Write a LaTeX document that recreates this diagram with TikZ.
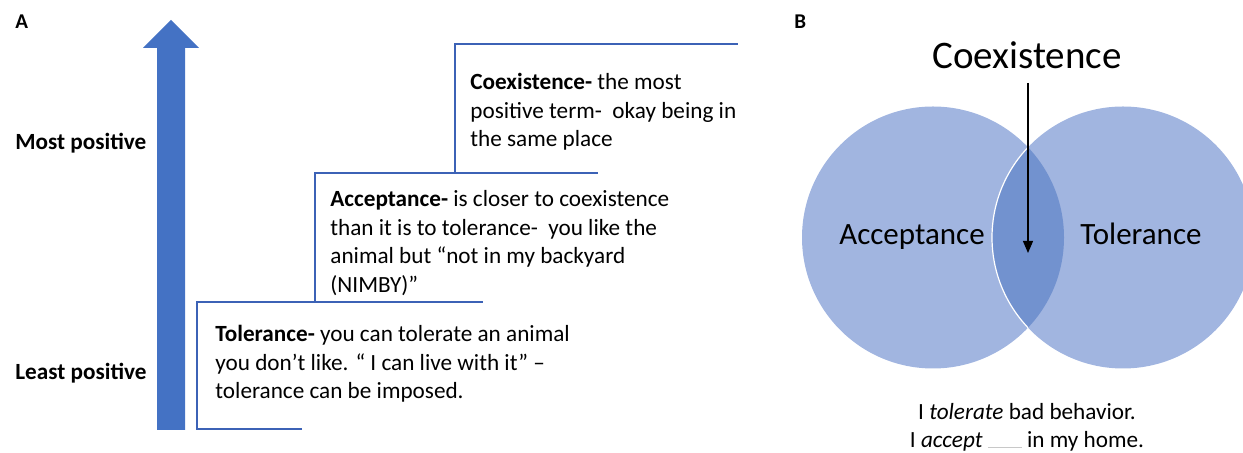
\documentclass[tikz,border=0pt]{standalone}
\usepackage{fontspec}
\setmainfont{Carlito}
\usetikzlibrary{arrows.meta, positioning}
\definecolor{arrblue}{HTML}{4472C4}
\definecolor{stepblue}{HTML}{3C62B6}
\definecolor{vennblue}{HTML}{A1B5E0}
\definecolor{lensblue}{HTML}{7292CF}
\definecolor{blankgray}{HTML}{C8C8C8}

\begin{document}
\begin{tikzpicture}[x=0.5pt, y=-0.5pt,
  >={Triangle[length=6pt, width=5pt]},
  every node/.style={text=black, inner sep=0pt},
  panel/.style={anchor=west, font=\fontsize{10.5}{12}\selectfont\bfseries},
  side/.style={anchor=west, font=\fontsize{11.6}{13}\selectfont\bfseries},
  desc/.style={anchor=base west, align=left, font=\fontsize{11.6}{14.25}\selectfont},
  steps/.style={stepblue, line width=1.4pt},
  venntext/.style={anchor=base, font=\fontsize{15.5}{18}\selectfont},
]

% Frame
\useasboundingbox (0,0) rectangle (1243,453);

% Panel A
\node[panel] (pa) at (15,22) {A};

% Rising arrow
\fill[arrblue] (157,430) -- (157,48) -- (143,48) -- (171,20) -- (199,48) -- (185,48) -- (185,430) -- cycle;

\node[side] (most) at (15,143) {Most positive};
\node[side] (least) at (15,373) {Least positive};

% Steps
\draw[steps] (302,429) -- (197,429) -- (197,302) -- (483,302);
\draw[steps] (315,302) -- (315,173) -- (598,173);
\draw[steps] (455,173) -- (455,44) -- (738,44);

% Step texts (base = last line)
\node[desc] (coexdesc) at (470,147) {\textbf{Coexistence-} the most\\positive term-~ okay being in\\the same place};
\node[desc] (accdesc) at (330,292.5) {\textbf{Acceptance-} is closer to coexistence\\than it is to tolerance-~ you like the\\animal but “not in my backyard\\(NIMBY)”};
\node[desc] (toldesc) at (215,399) {\textbf{Tolerance-} you can tolerate an animal\\you don’t like. “ I can live with it” –\\tolerance can be imposed.};

% Panel B
\node[panel] (pb) at (794,22) {B};

% Venn circles
\fill[vennblue] (933,237.5) circle (65.5pt);
\fill[vennblue] (1123,237.5) circle (65.5pt);
\begin{scope}
  \clip (933,237.5) circle (65.5pt);
  \fill[lensblue] (1123,237.5) circle (65.5pt);
  \draw[white, line width=0.6pt] (1123,237.5) circle (65.5pt);
\end{scope}

\node[venntext] (acc) at (912,245) {Acceptance};
\node[venntext] (tol) at (1141,245) {Tolerance};
\node[font=\fontsize{19.5}{22}\selectfont] (coex) at (1027,55) {Coexistence};

% Arrow into the overlap
\coordinate (lens) at (1028,253);
\draw[->, line width=0.6pt, shorten <=7pt] (coex.south -| lens) -- (lens);

% Sentences
\node[anchor=base, align=center, font=\fontsize{11.6}{14}\selectfont] (sent) at (1027,448)
  {I \textit{tolerate} bad behavior.\\I \textit{accept} \textcolor{blankgray}{\rule{17pt}{0.6pt}} in my home.};

\end{tikzpicture}
\end{document}
